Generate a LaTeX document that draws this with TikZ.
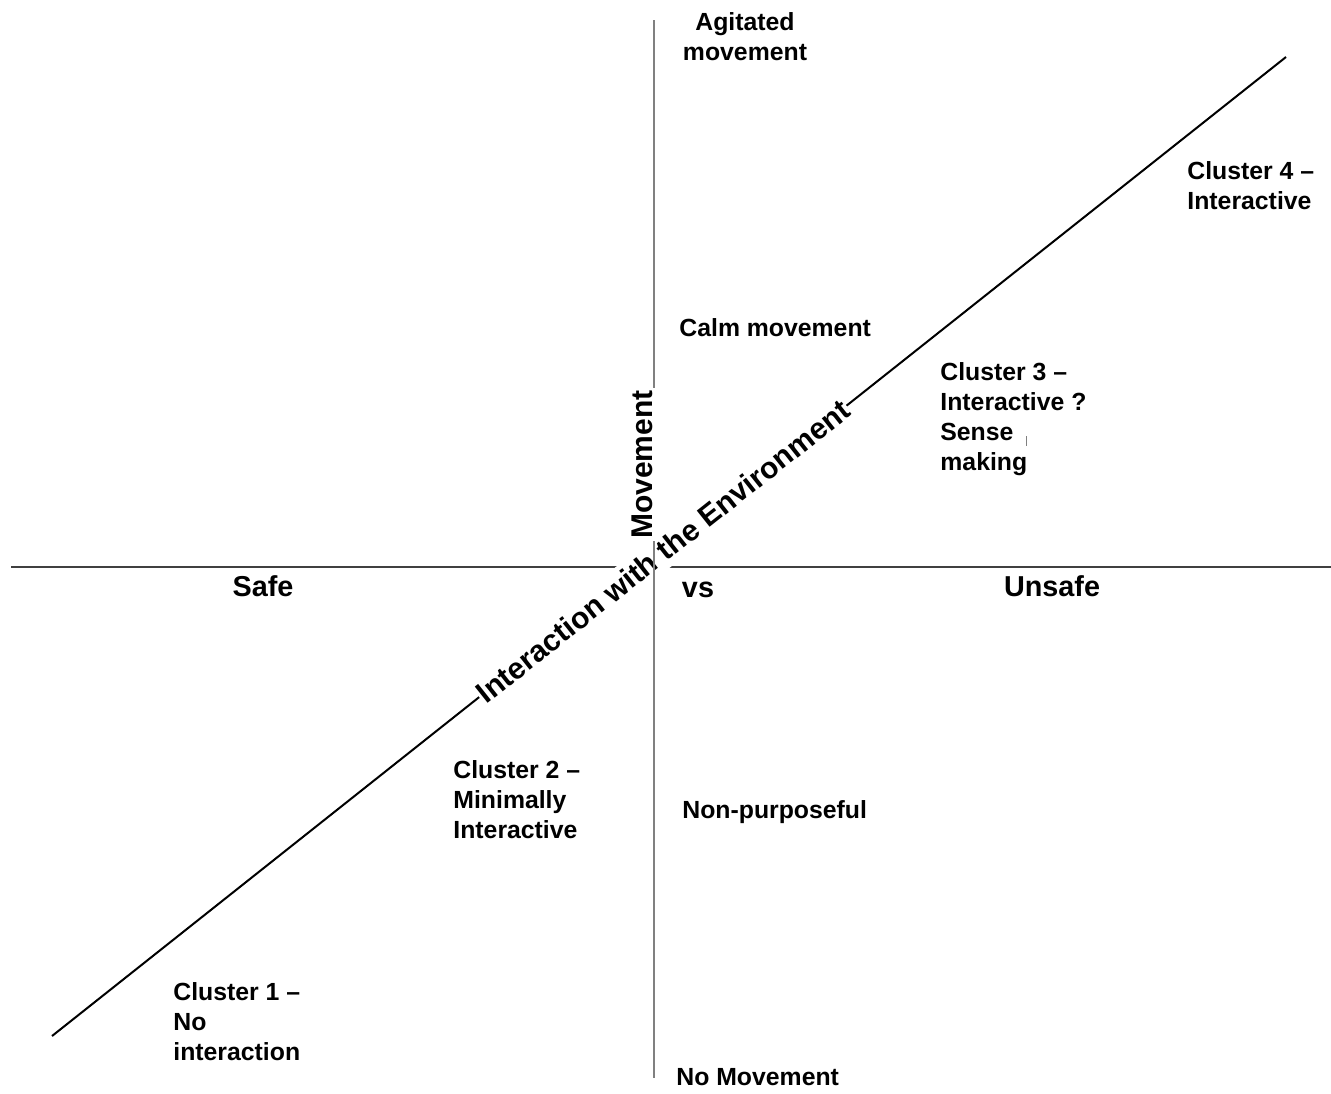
\documentclass[tikz,border=0pt]{standalone}
\usepackage{fontspec}
\setmainfont{Liberation Sans}
\usepackage{tikz}

\tikzset{
  lbl/.style={font=\bfseries\fontsize{12.4}{15}\selectfont, align=left, anchor=north west, inner sep=0pt},
  biglbl/.style={font=\bfseries\fontsize{14.4}{17}\selectfont, inner sep=0pt},
  axlbl/.style={font=\bfseries\fontsize{15}{18}\selectfont, fill=white},
}

\begin{document}
\begin{tikzpicture}[x=0.5pt, y=-0.5pt]
    \useasboundingbox (0,0) rectangle (1331,1093);

    % 轴的端点
    \coordinate (hL) at (11,567);
    \coordinate (hR) at (1331,567);
    \coordinate (vT) at (654,20);
    \coordinate (vB) at (654,1078);
    \coordinate (dL) at (52,1036);
    \coordinate (dR) at (1286,57);

    % 横轴
    \draw[line width=0.8pt, black!75] (hL) -- (hR);

    % 斜轴及标注
    \draw[line width=1pt] (dL) -- (dR)
        node[pos=0.495, sloped, axlbl, inner xsep=0.5pt, inner ysep=3pt] (env) {Interaction with the Environment};

    % 纵轴及标注
    \draw[line width=0.7pt, black!50] (vT) -- (vB);
    \node[axlbl, rotate=90, inner sep=1pt, anchor=south] (mov) at (655.5,464.5) {Movement};

    % 纵轴两端
    \node[lbl, anchor=north, align=center] (agit) at (745,12) {Agitated\\movement};
    \node[lbl] (nomov) at (676,1068) {No Movement};
    \node[lbl] (calm) at (679,318) {Calm movement};
    \node[lbl] (nonp) at (682,800) {Non-purposeful};

    % 横轴标注
    \node[biglbl] (safe) at (263,586) {Safe};
    \node[biglbl] (vs) at (698,590) {vs};
    \node[biglbl] (unsafe) at (1052,586) {Unsafe};

    % 各 cluster
    \node[lbl] (c1) at (173,982) {Cluster 1 –\\No\\interaction};
    \node[lbl] (c2) at (453,760) {Cluster 2 –\\Minimally\\Interactive};
    \node[lbl] (c3) at (940,362) {Cluster 3 –\\Interactive ?\\Sense\\making};
    \node[lbl] (c4) at (1187,161) {Cluster 4 –\\Interactive};

    % 小竖线
    \draw[line width=0.4pt, black!50] (1026,436) -- (1026,446);
\end{tikzpicture}
\end{document}
